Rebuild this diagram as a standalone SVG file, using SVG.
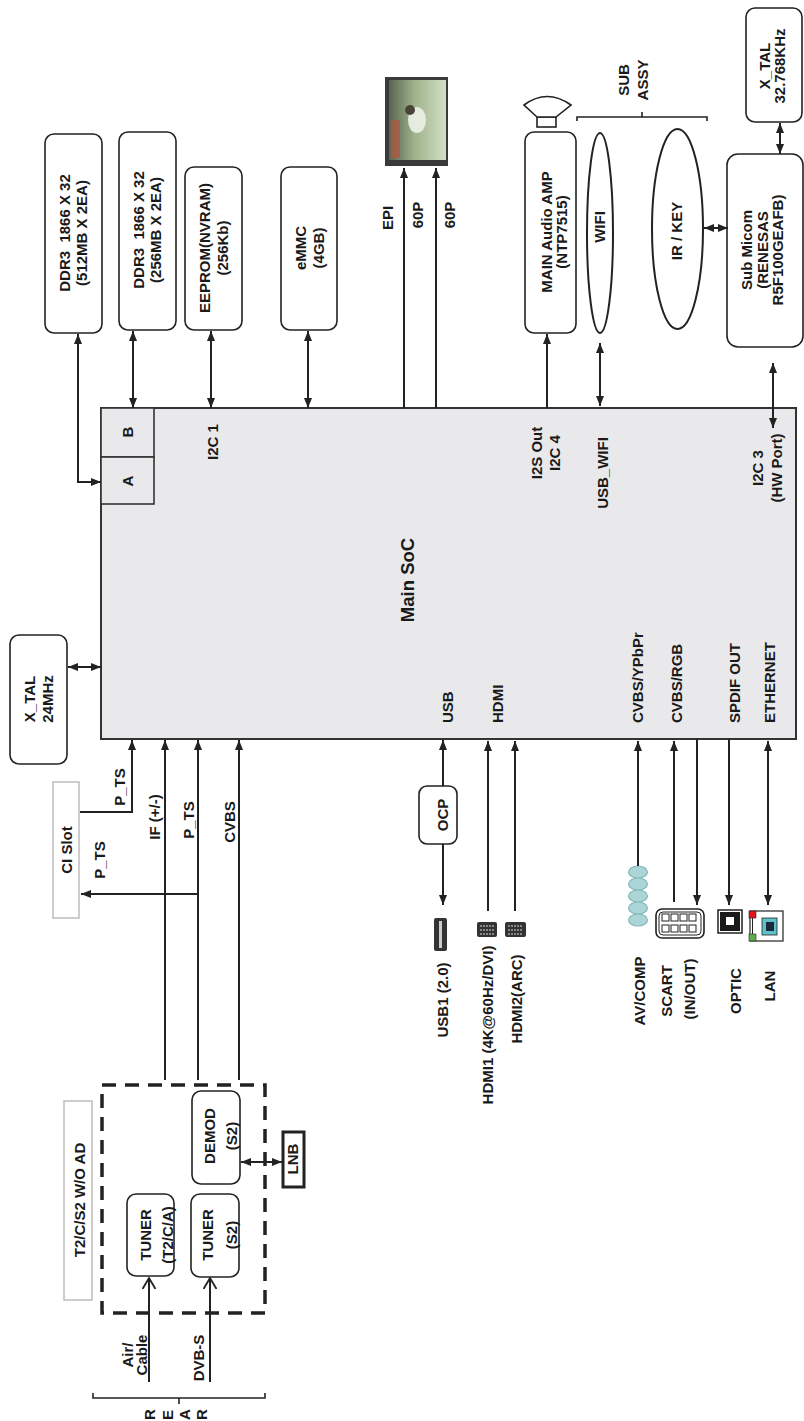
<svg xmlns="http://www.w3.org/2000/svg" width="804" height="1421" viewBox="0 0 804 1421">
<style>
text{font-family:"Liberation Sans",Arial,sans-serif;font-weight:bold;font-size:15px;fill:#1a1a1a}
.box{fill:#fff;stroke:#222;stroke-width:1.6}
.lbox{fill:#fff;stroke:#bdbdbd;stroke-width:1.5}
.ln{fill:none;stroke:#222;stroke-width:2}
.c{text-anchor:middle}
.s{text-anchor:start}
</style>
<defs>
<marker id="ah" viewBox="0 0 10 8" refX="10" refY="4" markerWidth="10" markerHeight="8" markerUnits="userSpaceOnUse" orient="auto-start-reverse"><path d="M0,0 L10,4 L0,8 z" fill="#222"/></marker>
<marker id="oh" viewBox="0 0 12 14" refX="11" refY="7" markerWidth="12" markerHeight="14" markerUnits="userSpaceOnUse" orient="auto"><path d="M0,0.5 L11,7 L0,13.5" fill="none" stroke="#222" stroke-width="1.8"/></marker>
<linearGradient id="scr" x1="0" y1="0" x2="1" y2="0"><stop offset="0" stop-color="#5a6452"/><stop offset="0.45" stop-color="#9fb38c"/><stop offset="1" stop-color="#d2dec6"/></linearGradient>
</defs>

<g id="soc">
<rect x="101" y="408" width="695" height="331" fill="#e9e9eb" stroke="#333" stroke-width="2"/>
<rect x="101" y="408" width="53" height="49" fill="#e9e9eb" stroke="#333" stroke-width="1.6"/>
<rect x="101" y="457" width="53" height="47" fill="#e9e9eb" stroke="#333" stroke-width="1.6"/>
<text class="c" transform="translate(133,432) rotate(-90)">B</text>
<text class="c" transform="translate(133,481) rotate(-90)">A</text>
<text class="c" transform="translate(218,442) rotate(-90)">I2C 1</text>
<text class="c" style="font-size:18.5px" transform="translate(414,580) rotate(-90)">Main SoC</text>
<text class="s" transform="translate(453,723) rotate(-90)">USB</text>
<text class="s" transform="translate(503,723) rotate(-90)">HDMI</text>
<text class="c" transform="translate(542,453) rotate(-90)"><tspan x="0" y="0">I2S Out</tspan><tspan x="0" y="18">I2C 4</tspan></text>
<text class="c" transform="translate(608,473) rotate(-90)">USB_WIFI</text>
<text class="c" transform="translate(763,468) rotate(-90)"><tspan x="0" y="0">I2C 3</tspan><tspan x="0" y="19">(HW Port)</tspan></text>
<text class="s" transform="translate(643,723) rotate(-90)">CVBS/YPbPr</text>
<text class="s" transform="translate(682,723) rotate(-90)">CVBS/RGB</text>
<text class="s" transform="translate(740,723) rotate(-90)">SPDIF OUT</text>
<text class="s" transform="translate(775,723) rotate(-90)">ETHERNET</text>
</g>

<g id="ddr3a">
<rect class="box" x="45" y="134" width="57" height="199" rx="9"/>
<text class="c" xml:space="preserve" transform="translate(70,233) rotate(-90)"><tspan x="0" y="0">DDR3  1866 X 32</tspan><tspan x="0" y="17">(512MB X 2EA)</tspan></text>
</g>
<g id="ddr3b">
<rect class="box" x="119" y="132" width="57" height="198" rx="9"/>
<text class="c" xml:space="preserve" transform="translate(144,230) rotate(-90)"><tspan x="0" y="0">DDR3  1866 X 32</tspan><tspan x="0" y="17">(256MB X 2EA)</tspan></text>
</g>
<g id="eeprom">
<rect class="box" x="185" y="167" width="57" height="163" rx="9"/>
<text class="c" transform="translate(210,248) rotate(-90)"><tspan x="0" y="0">EEPROM(NVRAM)</tspan><tspan x="0" y="18">(256Kb)</tspan></text>
</g>
<g id="emmc">
<rect class="box" x="281" y="167" width="56" height="163" rx="9"/>
<text class="c" transform="translate(306,248) rotate(-90)"><tspan x="0" y="0">eMMC</tspan><tspan x="0" y="18">(4GB)</tspan></text>
</g>

<g id="panel">
<rect x="385" y="77" width="63" height="89" fill="#3a3a3a"/>
<rect x="389" y="80" width="57" height="80" fill="url(#scr)"/>
<rect x="391" y="120" width="9" height="38" fill="#b4553e" opacity="0.7"/>
<ellipse cx="417" cy="120" rx="9" ry="13" fill="#e6ebe0"/>
<circle cx="410" cy="110" r="5" fill="#4a4438"/>
</g>
<g id="epi-labels">
<text class="c" transform="translate(393,218) rotate(-90)">EPI</text>
<text class="c" transform="translate(423,215) rotate(-90)">60P</text>
<text class="c" transform="translate(455,215) rotate(-90)">60P</text>
</g>

<g id="amp">
<rect class="box" x="525" y="132" width="51" height="201" rx="9"/>
<text class="c" transform="translate(552,232) rotate(-90)"><tspan x="0" y="0">MAIN Audio AMP</tspan><tspan x="0" y="15">(NTP7515)</tspan></text>
<rect x="537" y="117" width="19" height="10" fill="#fff" stroke="#222" stroke-width="1.6"/>
<path d="M537,117 L524,105 Q547,88 571,105 L556,117 Z" fill="#fff" stroke="#222" stroke-width="1.6"/>
</g>

<g id="wifi">
<ellipse cx="600" cy="233" rx="13" ry="100" fill="#fff" stroke="#222" stroke-width="2"/>
<text class="c" transform="translate(605,227) rotate(-90)">WIFI</text>
</g>
<g id="irkey">
<ellipse cx="677.5" cy="229" rx="25.5" ry="100" fill="#fff" stroke="#222" stroke-width="2"/>
<text class="c" transform="translate(682,231) rotate(-90)">IR / KEY</text>
</g>
<g id="subassy">
<path class="ln" style="stroke-width:1.6" d="M577,121 L577,117 L707,117 L707,121 M642,117 L642,112"/>
<text class="c" transform="translate(629,80) rotate(-90)"><tspan x="0" y="0">SUB</tspan><tspan x="0" y="19">ASSY</tspan></text>
</g>

<g id="xtal32">
<rect class="box" x="746" y="8" width="56" height="114" rx="9"/>
<text class="c" transform="translate(770,66) rotate(-90)"><tspan x="0" y="0">X_TAL</tspan><tspan x="0" y="15">32.768KHz</tspan></text>
</g>
<g id="submicom">
<rect class="box" x="727" y="154" width="76" height="193" rx="11"/>
<text class="c" transform="translate(752,250) rotate(-90)"><tspan x="0" y="0">Sub Micom</tspan><tspan x="0" y="15.5">(RENESAS</tspan><tspan x="0" y="31">R5F100GEAFB)</tspan></text>
</g>

<g id="xtal24">
<rect class="box" x="10" y="635" width="57" height="129" rx="9"/>
<text class="c" transform="translate(35,699) rotate(-90)"><tspan x="0" y="0">X_TAL</tspan><tspan x="0" y="18">24MHz</tspan></text>
</g>
<g id="cislot">
<rect class="lbox" x="53" y="782" width="26" height="136"/>
<text class="c" transform="translate(72,850) rotate(-90)">CI Slot</text>
</g>
<g id="ts-labels">
<text class="c" transform="translate(125,787) rotate(-90)">P_TS</text>
<text class="c" transform="translate(160,817) rotate(-90)">IF (+/-)</text>
<text class="c" transform="translate(194,820) rotate(-90)">P_TS</text>
<text class="c" transform="translate(235,822) rotate(-90)">CVBS</text>
<text class="c" transform="translate(105,860) rotate(-90)">P_TS</text>
</g>

<g id="tunerbox">
<rect x="102" y="1085" width="163" height="228" fill="none" stroke="#222" stroke-width="3.5" stroke-dasharray="14 9"/>
</g>
<g id="tunerlabel">
<rect class="lbox" x="64" y="1101" width="28" height="199"/>
<text class="c" transform="translate(85,1200) rotate(-90)">T2/C/S2 W/O AD</text>
</g>
<g id="tuner1">
<rect class="box" x="127" y="1194" width="47" height="82" rx="9"/>
<text class="c" transform="translate(151,1235) rotate(-90)"><tspan x="0" y="0">TUNER</tspan><tspan x="0" y="22">(T2/C/A)</tspan></text>
</g>
<g id="tuner2">
<rect class="box" x="191" y="1194" width="48" height="83" rx="9"/>
<text class="c" transform="translate(213,1235) rotate(-90)"><tspan x="0" y="0">TUNER</tspan><tspan x="0" y="24">(S2)</tspan></text>
</g>
<g id="demod">
<rect class="box" x="192" y="1091" width="48" height="93" rx="9"/>
<text class="c" transform="translate(215,1136) rotate(-90)"><tspan x="0" y="0">DEMOD</tspan><tspan x="0" y="22">(S2)</tspan></text>
</g>
<g id="lnb">
<rect x="283" y="1132" width="21" height="55" fill="#fff" stroke="#222" stroke-width="3"/>
<text class="c" transform="translate(298,1159) rotate(-90)">LNB</text>
</g>
<g id="inputs">
<text class="c" transform="translate(133,1355) rotate(-90)"><tspan x="0" y="0">Air/</tspan><tspan x="0" y="14">Cable</tspan></text>
<text class="c" transform="translate(204,1358) rotate(-90)">DVB-S</text>
</g>
<g id="rear">
<path class="ln" style="stroke-width:1.6" d="M93,1393 L93,1398 L265,1398 L265,1393 M179,1398 L179,1404"/>
<text class="s" transform="translate(155,1420) rotate(-90)">R</text>
<text class="s" transform="translate(173,1420) rotate(-90)">E</text>
<text class="s" transform="translate(190,1420) rotate(-90)">A</text>
<text class="s" transform="translate(207,1420) rotate(-90)">R</text>
</g>

<g id="ocp">
<rect class="box" x="419" y="786" width="38" height="58" rx="8"/>
<text class="c" transform="translate(448,815) rotate(-90)">OCP</text>
</g>
<g id="usb1">
<rect x="434" y="918" width="13" height="33" rx="2" fill="#333"/>
<rect x="439" y="921" width="3" height="27" fill="#ccc"/>
<text class="c" transform="translate(448,1000) rotate(-90)">USB1 (2.0)</text>
</g>
<g id="hdmi1">
<rect x="477" y="922" width="20" height="15" rx="2" fill="#333"/>
<path d="M480,926 h14 M480,930 h14 M480,934 h14" stroke="#ddd" stroke-width="1" stroke-dasharray="2 1"/>
<text class="c" transform="translate(493,1025) rotate(-90)">HDMI1 (4K@60Hz/DVI)</text>
</g>
<g id="hdmi2">
<rect x="505" y="922" width="21" height="15" rx="2" fill="#333"/>
<path d="M508,926 h15 M508,930 h15 M508,934 h15" stroke="#ddd" stroke-width="1" stroke-dasharray="2 1"/>
<text class="c" transform="translate(522,999) rotate(-90)">HDMI2(ARC)</text>
</g>
<g id="avcomp">
<g fill="#abd5d6" stroke="#86b9ba" stroke-width="1.2">
<ellipse cx="638" cy="872" rx="9.5" ry="6"/>
<ellipse cx="638" cy="884" rx="9.5" ry="6"/>
<ellipse cx="638" cy="896" rx="9.5" ry="6"/>
<ellipse cx="638" cy="908" rx="9.5" ry="6"/>
<ellipse cx="638" cy="920" rx="9.5" ry="6"/>
</g>
<text class="c" transform="translate(645,991) rotate(-90)">AV/COMP</text>
</g>
<g id="scart">
<rect x="656" y="909" width="48" height="29" rx="6" fill="#fff" stroke="#222" stroke-width="1.6"/>
<rect x="659" y="912" width="42" height="23" rx="4" fill="none" stroke="#222" stroke-width="1"/>
<g fill="#fff" stroke="#222" stroke-width="1">
<rect x="662" y="914" width="7" height="7"/><rect x="671" y="914" width="7" height="7"/><rect x="680" y="914" width="7" height="7"/><rect x="689" y="914" width="7" height="7"/>
<rect x="662" y="925" width="7" height="7"/><rect x="671" y="925" width="7" height="7"/><rect x="680" y="925" width="7" height="7"/><rect x="689" y="925" width="7" height="7"/>
</g>
<text class="c" transform="translate(672,991) rotate(-90)">SCART</text>
<text class="c" transform="translate(695,989) rotate(-90)">(IN/OUT)</text>
</g>
<g id="optic">
<rect x="718" y="910" width="24" height="23" fill="#fff" stroke="#222" stroke-width="1.5"/>
<rect x="720" y="912" width="20" height="19" fill="#1a1a1a"/>
<rect x="726" y="917" width="8" height="8" fill="#fff"/>
<text class="c" transform="translate(741,991) rotate(-90)">OPTIC</text>
</g>
<g id="lan">
<rect x="750" y="911" width="33" height="30" fill="#fff" stroke="#222" stroke-width="1.2"/>
<line x1="752.5" y1="914" x2="752.5" y2="938" stroke="#222" stroke-width="1"/>
<rect x="749" y="911" width="7" height="7" fill="#e0141b" stroke="#222" stroke-width="0.6"/>
<rect x="749" y="934" width="7" height="7" fill="#5cb04a" stroke="#222" stroke-width="0.6"/>
<rect x="762" y="918" width="15" height="17" fill="#5fc1cc" stroke="#222" stroke-width="0.8"/>
<rect x="766" y="922" width="8" height="9" fill="#1a2a3a"/>
<text class="c" transform="translate(775,986) rotate(-90)">LAN</text>
</g>

<g id="connectors" class="ln">
<path class="ln" d="M78,334 L78,482 L101,482" marker-start="url(#ah)" marker-end="url(#ah)"/>
<path class="ln" d="M133,331 L133,408" marker-start="url(#ah)" marker-end="url(#ah)"/>
<path class="ln" d="M211,331 L211,408" marker-start="url(#ah)" marker-end="url(#ah)"/>
<path class="ln" d="M308,331 L308,408" marker-start="url(#ah)" marker-end="url(#ah)"/>
<path class="ln" d="M404,408 L404,168" marker-end="url(#ah)"/>
<path class="ln" d="M436,408 L436,168" marker-end="url(#ah)"/>
<path class="ln" d="M547,408 L547,334" marker-end="url(#ah)"/>
<path class="ln" d="M600,343 L600,406" marker-start="url(#ah)" marker-end="url(#ah)"/>
<path class="ln" d="M704,228 L728,228" marker-start="url(#ah)" marker-end="url(#ah)"/>
<path class="ln" d="M780,123 L780,154" marker-start="url(#ah)" marker-end="url(#ah)"/>
<path class="ln" d="M773,363 L773,428" marker-start="url(#ah)" marker-end="url(#ah)"/>
<path class="ln" d="M68,667 L101,667" marker-start="url(#ah)" marker-end="url(#ah)"/>
<path class="ln" d="M80,812 L132,812 L132,740" marker-end="url(#ah)"/>
<path class="ln" d="M165,1080 L165,740" marker-end="url(#ah)"/>
<path class="ln" d="M198,1080 L198,740" marker-end="url(#ah)"/>
<path class="ln" d="M198,894 L81,894" marker-end="url(#ah)"/>
<path class="ln" d="M239,1080 L239,740" marker-end="url(#ah)"/>
<path class="ln" d="M241,1162 L282,1162" marker-start="url(#ah)" marker-end="url(#ah)"/>
<path class="ln" d="M149,1382 L149,1278" marker-end="url(#oh)"/>
<path class="ln" d="M210,1382 L210,1278" marker-end="url(#oh)"/>
<path class="ln" d="M443,786 L443,740" marker-end="url(#ah)"/>
<path class="ln" d="M443,844 L443,905" marker-end="url(#ah)"/>
<path class="ln" d="M488,911 L488,741" marker-end="url(#ah)"/>
<path class="ln" d="M515,911 L515,741" marker-end="url(#ah)"/>
<path class="ln" d="M638,866 L638,741" marker-end="url(#ah)"/>
<path class="ln" d="M674,902 L674,741" marker-end="url(#ah)"/>
<path class="ln" d="M697,739 L697,905" marker-end="url(#ah)"/>
<path class="ln" d="M729,739 L729,905" marker-end="url(#ah)"/>
<path class="ln" d="M768,741 L768,905" marker-start="url(#ah)" marker-end="url(#ah)"/>
</g>
</svg>
